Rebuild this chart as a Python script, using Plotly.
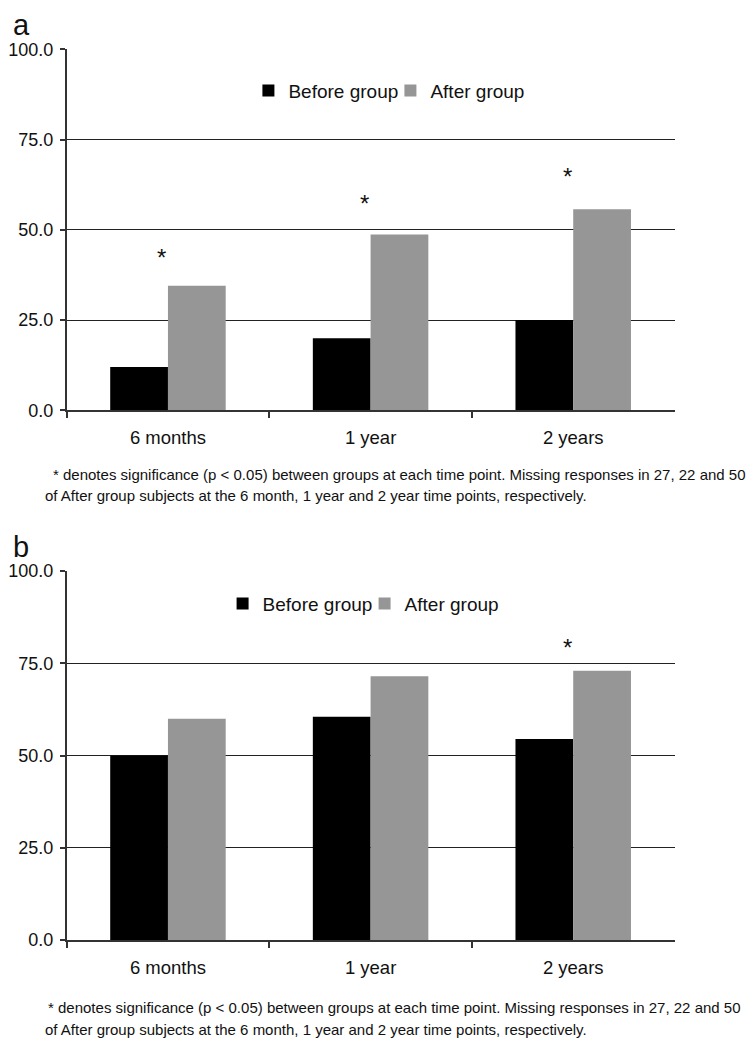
import plotly.graph_objects as go

categories = ["6 months", "1 year", "2 years"]
before_a = [12.0, 20.0, 25.0]
after_a = [34.5, 48.7, 55.7]
star_a = [44.0, 59.0, 66.5]
before_b = [50.0, 60.5, 54.5]
after_b = [60.0, 71.5, 73.0]
star_b = [None, None, 81.0]
yticks = [0, 25, 50, 75, 100]
note1 = "* denotes significance (p < 0.05) between groups at each time point. Missing responses in 27, 22 and 50"
note2 = "of After group subjects at the 6 month, 1 year and 2 year time points, respectively."

# the page body has an 8px margin, so the figure is drawn from (8, 8)
OFF = 8
W, H = 754 - OFF, 1050 - OFF
FONT = "Liberation Sans, Arial, sans-serif"
BLACK = "#000000"
GRAY = "#969696"
TXT = "#111111"


def px(x):
    return (x - OFF) / W


def py(y):
    return 1 - (y - OFF) / H


fig = go.Figure()
fig.add_trace(go.Bar(x=categories, y=before_a, name="Before group", marker_color=BLACK,
                     marker_line_width=0, xaxis="x", yaxis="y", legend="legend"))
fig.add_trace(go.Bar(x=categories, y=after_a, name="After group", marker_color=GRAY,
                     marker_line_width=0, xaxis="x", yaxis="y", legend="legend"))
fig.add_trace(go.Bar(x=categories, y=before_b, name="Before group", marker_color=BLACK,
                     marker_line_width=0, xaxis="x2", yaxis="y2", legend="legend2"))
fig.add_trace(go.Bar(x=categories, y=after_b, name="After group", marker_color=GRAY,
                     marker_line_width=0, xaxis="x2", yaxis="y2", legend="legend2"))

annotations = []
for xr, yr, stars in (("x", "y", star_a), ("x2", "y2", star_b)):
    for c, s in zip(categories, stars):
        if s is not None:
            annotations.append(dict(x=c, y=s, xref=xr, yref=yr, text="*", showarrow=False,
                                    font=dict(size=24, family=FONT, color=TXT),
                                    xshift=-6, yshift=-6, yanchor="middle"))

note_font = dict(size=15, family=FONT, color=TXT)
annotations += [
    dict(x=px(8), y=py(15), xref="paper", yref="paper", text="a", showarrow=False,
         xanchor="left", yanchor="middle", xshift=-2,
         font=dict(size=29, family=FONT, color=TXT)),
    dict(x=px(8), y=py(547), xref="paper", yref="paper", text="b", showarrow=False,
         xanchor="left", yanchor="middle", xshift=-2,
         font=dict(size=29, family=FONT, color=TXT)),
    dict(x=px(46), y=py(473), xref="paper", yref="paper", text=note1, showarrow=False,
         xanchor="left", yanchor="middle", font=note_font),
    dict(x=px(38), y=py(495), xref="paper", yref="paper", text=note2, showarrow=False,
         xanchor="left", yanchor="middle", font=note_font),
    dict(x=px(41), y=py(1017), xref="paper", yref="paper", text=note1, showarrow=False,
         xanchor="left", yanchor="middle", font=note_font),
    dict(x=px(38), y=py(1039), xref="paper", yref="paper", text=note2, showarrow=False,
         xanchor="left", yanchor="middle", font=note_font),
]

xdom = [px(62), px(674)]
common_x = dict(domain=xdom, type="category", showline=True, linecolor="#333", linewidth=1.5,
                ticks="outside", tickson="boundaries", ticklen=6, tickwidth=1.5, tickcolor="#333",
                showgrid=False, tickfont=dict(size=18.5, family=FONT, color=TXT),
                ticklabelstandoff=10, range=[-0.5, 2.5])
common_y = dict(range=[0, 100], tickvals=yticks, tickformat=".1f", showline=True,
                linecolor="#333", linewidth=1.5, ticks="outside", ticklen=5, tickwidth=1.5,
                tickcolor="#333", showgrid=True, gridcolor="#222", gridwidth=1.3,
                zeroline=False, tickfont=dict(size=18, family=FONT, color=TXT),
                ticklabelstandoff=3)

legend_common = dict(orientation="h", xanchor="left", yanchor="middle",
                     font=dict(size=19, family=FONT, color=TXT), itemwidth=30,
                     entrywidthmode="pixels", entrywidth=97, bgcolor="rgba(0,0,0,0)")

fig.update_layout(
    width=W, height=H, margin=dict(l=0, r=0, t=0, b=0),
    paper_bgcolor="white", plot_bgcolor="white",
    barmode="group", bargap=0.43, bargroupgap=0,
    font=dict(family=FONT, color=TXT),
    xaxis=dict(common_x, anchor="y"),
    yaxis=dict(common_y, domain=[py(408), py(40)], anchor="x"),
    xaxis2=dict(common_x, anchor="y2"),
    yaxis2=dict(common_y, domain=[py(948), py(572)], anchor="x2"),
    legend=dict(legend_common, x=px(245), y=py(82)),
    legend2=dict(legend_common, x=px(219), y=py(605)),
    annotations=annotations,
)

fig.write_html("out.html")
